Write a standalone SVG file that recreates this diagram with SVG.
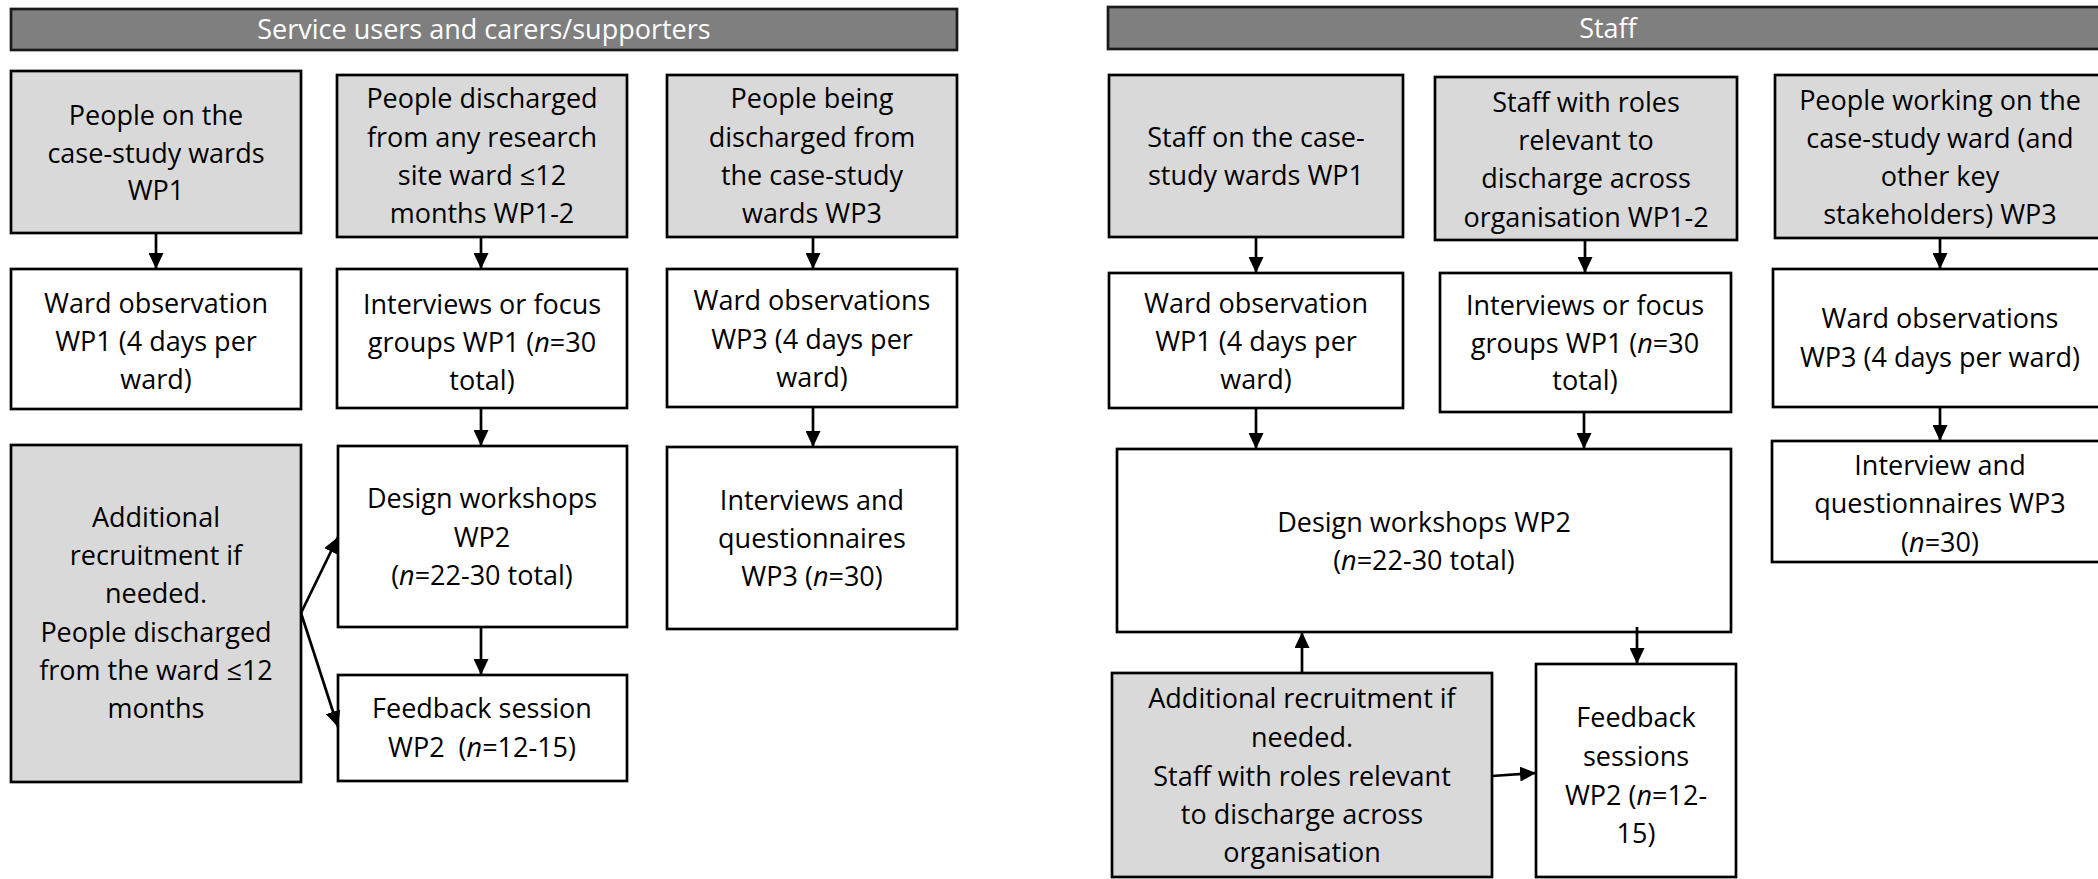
<svg xmlns="http://www.w3.org/2000/svg" width="2098" height="879" viewBox="0 0 2098 879">
  <style>
    .box { stroke: #000; stroke-width: 2.7; }
    .grey { fill: #d9d9d9; }
    .white { fill: #fff; }
    .head { fill: #7f7f7f; stroke: #1a1a1a; stroke-width: 2.7; }
    text { font-family: "Open Sans", "Liberation Sans", sans-serif; font-size: 27px; text-anchor: middle; fill: #000; white-space: pre; }
    .htxt { fill: #fff; }
    .it { font-style: italic; }
    .conn { stroke: #000; stroke-width: 2.7; fill: none; marker-end: url(#arrow); }
  </style>
  <defs>
    <marker id="arrow" markerUnits="userSpaceOnUse" markerWidth="16" markerHeight="15" refX="16" refY="7.5" orient="auto">
      <path d="M0,0 L16,7.5 L0,15 z" fill="#000"/>
    </marker>
  </defs>
  <rect width="2098" height="879" fill="#fff"/>

  <!-- Section headers -->
  <g id="header-service-users">
    <rect class="head" x="11" y="9" width="946" height="41"/>
    <text class="htxt" x="484" y="39">Service users and carers/supporters</text>
  </g>
  <g id="header-staff">
    <rect class="head" x="1108" y="7" width="1010" height="42"/>
    <text class="htxt" x="1608" y="38">Staff</text>
  </g>

  <!-- Service users and carers/supporters column -->
  <g id="su-case-study-wards">
    <rect class="box grey" x="11" y="71" width="290" height="162"/>
    <text><tspan x="156" y="125">People on the</tspan><tspan x="156" y="163">case-study wards</tspan><tspan x="156" y="200">WP1</tspan></text>
  </g>
  <g id="su-discharged-any-site">
    <rect class="box grey" x="337" y="75" width="290" height="162"/>
    <text><tspan x="482" y="108">People discharged</tspan><tspan x="482" y="147">from any research</tspan><tspan x="482" y="185">site ward ≤12</tspan><tspan x="482" y="223">months WP1-2</tspan></text>
  </g>
  <g id="su-being-discharged">
    <rect class="box grey" x="667" y="75" width="290" height="162"/>
    <text><tspan x="812" y="108">People being</tspan><tspan x="812" y="147">discharged from</tspan><tspan x="812" y="185">the case-study</tspan><tspan x="812" y="223">wards WP3</tspan></text>
  </g>
  <g id="su-ward-observation">
    <rect class="box white" x="11" y="269" width="290" height="140"/>
    <text><tspan x="156" y="313">Ward observation</tspan><tspan x="156" y="351">WP1 (4 days per</tspan><tspan x="156" y="389">ward)</tspan></text>
  </g>
  <g id="su-interviews">
    <rect class="box white" x="337" y="269" width="290" height="139"/>
    <text><tspan x="482" y="314">Interviews or focus</tspan><tspan x="482" y="352">groups WP1 (<tspan class="it">n</tspan>=30</tspan><tspan x="482" y="390">total)</tspan></text>
  </g>
  <g id="su-ward-observations-wp3">
    <rect class="box white" x="667" y="269" width="290" height="138"/>
    <text><tspan x="812" y="310">Ward observations</tspan><tspan x="812" y="349">WP3 (4 days per</tspan><tspan x="812" y="387">ward)</tspan></text>
  </g>
  <g id="su-additional-recruitment">
    <rect class="box grey" x="11" y="445" width="290" height="337"/>
    <text><tspan x="156" y="527">Additional</tspan><tspan x="156" y="565">recruitment if</tspan><tspan x="156" y="603">needed.</tspan><tspan x="156" y="642">People discharged</tspan><tspan x="156" y="680">from the ward ≤12</tspan><tspan x="156" y="718">months</tspan></text>
  </g>
  <g id="su-design-workshops">
    <rect class="box white" x="338" y="446" width="289" height="181"/>
    <text><tspan x="482" y="508">Design workshops</tspan><tspan x="482" y="547">WP2</tspan><tspan x="482" y="585">(<tspan class="it">n</tspan>=22-30 total)</tspan></text>
  </g>
  <g id="su-feedback-session">
    <rect class="box white" x="338" y="675" width="289" height="106"/>
    <text><tspan x="482" y="718">Feedback session</tspan><tspan x="482" y="757">WP2  (<tspan class="it">n</tspan>=12-15)</tspan></text>
  </g>
  <g id="su-interviews-questionnaires">
    <rect class="box white" x="667" y="447" width="290" height="182"/>
    <text><tspan x="812" y="510">Interviews and</tspan><tspan x="812" y="548">questionnaires</tspan><tspan x="812" y="586">WP3 (<tspan class="it">n</tspan>=30)</tspan></text>
  </g>

  <!-- Staff column -->
  <g id="st-case-study-wards">
    <rect class="box grey" x="1109" y="75" width="294" height="162"/>
    <text><tspan x="1256" y="147">Staff on the case-</tspan><tspan x="1256" y="185">study wards WP1</tspan></text>
  </g>
  <g id="st-roles-relevant">
    <rect class="box grey" x="1435" y="77" width="302" height="163"/>
    <text><tspan x="1586" y="112">Staff with roles</tspan><tspan x="1586" y="150">relevant to</tspan><tspan x="1586" y="188">discharge across</tspan><tspan x="1586" y="227">organisation WP1-2</tspan></text>
  </g>
  <g id="st-working-on-ward">
    <rect class="box grey" x="1775" y="75" width="340" height="163"/>
    <text><tspan x="1940" y="110">People working on the</tspan><tspan x="1940" y="148">case-study ward (and</tspan><tspan x="1940" y="186">other key</tspan><tspan x="1940" y="224">stakeholders) WP3</tspan></text>
  </g>
  <g id="st-ward-observation">
    <rect class="box white" x="1109" y="273" width="294" height="135"/>
    <text><tspan x="1256" y="313">Ward observation</tspan><tspan x="1256" y="351">WP1 (4 days per</tspan><tspan x="1256" y="389">ward)</tspan></text>
  </g>
  <g id="st-interviews">
    <rect class="box white" x="1440" y="273" width="291" height="139"/>
    <text><tspan x="1585" y="315">Interviews or focus</tspan><tspan x="1585" y="353">groups WP1 (<tspan class="it">n</tspan>=30</tspan><tspan x="1585" y="390">total)</tspan></text>
  </g>
  <g id="st-ward-observations-wp3">
    <rect class="box white" x="1773" y="269" width="340" height="138"/>
    <text><tspan x="1940" y="328">Ward observations</tspan><tspan x="1940" y="367">WP3 (4 days per ward)</tspan></text>
  </g>
  <g id="st-design-workshops">
    <rect class="box white" x="1117" y="449" width="614" height="183"/>
    <text><tspan x="1424" y="532">Design workshops WP2</tspan><tspan x="1424" y="570">(<tspan class="it">n</tspan>=22-30 total)</tspan></text>
  </g>
  <g id="st-interview-questionnaires">
    <rect class="box white" x="1772" y="441" width="340" height="121"/>
    <text><tspan x="1940" y="475">Interview and</tspan><tspan x="1940" y="513">questionnaires WP3</tspan><tspan x="1940" y="552">(<tspan class="it">n</tspan>=30)</tspan></text>
  </g>
  <g id="st-additional-recruitment">
    <rect class="box grey" x="1112" y="673" width="380" height="204"/>
    <text><tspan x="1302" y="708">Additional recruitment if</tspan><tspan x="1302" y="747">needed.</tspan><tspan x="1302" y="786">Staff with roles relevant</tspan><tspan x="1302" y="824">to discharge across</tspan><tspan x="1302" y="862">organisation</tspan></text>
  </g>
  <g id="st-feedback-sessions">
    <rect class="box white" x="1536" y="664" width="200" height="213"/>
    <text><tspan x="1636" y="727">Feedback</tspan><tspan x="1636" y="766">sessions</tspan><tspan x="1636" y="805">WP2 (<tspan class="it">n</tspan>=12-</tspan><tspan x="1636" y="843">15)</tspan></text>
  </g>

  <!-- Connectors -->
  <g id="connectors">
    <path class="conn" d="M156,233 L156,269"/>
    <path class="conn" d="M481,237 L481,269"/>
    <path class="conn" d="M813,237 L813,269"/>
    <path class="conn" d="M481,408 L481,446"/>
    <path class="conn" d="M481,627 L481,675"/>
    <path class="conn" d="M813,407 L813,447"/>
    <path class="conn" d="M301,613 L338,537"/>
    <path class="conn" d="M301,613 L338,727"/>
    <path class="conn" d="M1256,237 L1256,273"/>
    <path class="conn" d="M1585,240 L1585,273"/>
    <path class="conn" d="M1940,238 L1940,269"/>
    <path class="conn" d="M1256,408 L1256,449"/>
    <path class="conn" d="M1584,412 L1584,449"/>
    <path class="conn" d="M1940,407 L1940,441"/>
    <path class="conn" d="M1302,673 L1302,632"/>
    <path class="conn" d="M1637,627 L1637,664"/>
    <path class="conn" d="M1492,776 L1536,773"/>
  </g>
</svg>
